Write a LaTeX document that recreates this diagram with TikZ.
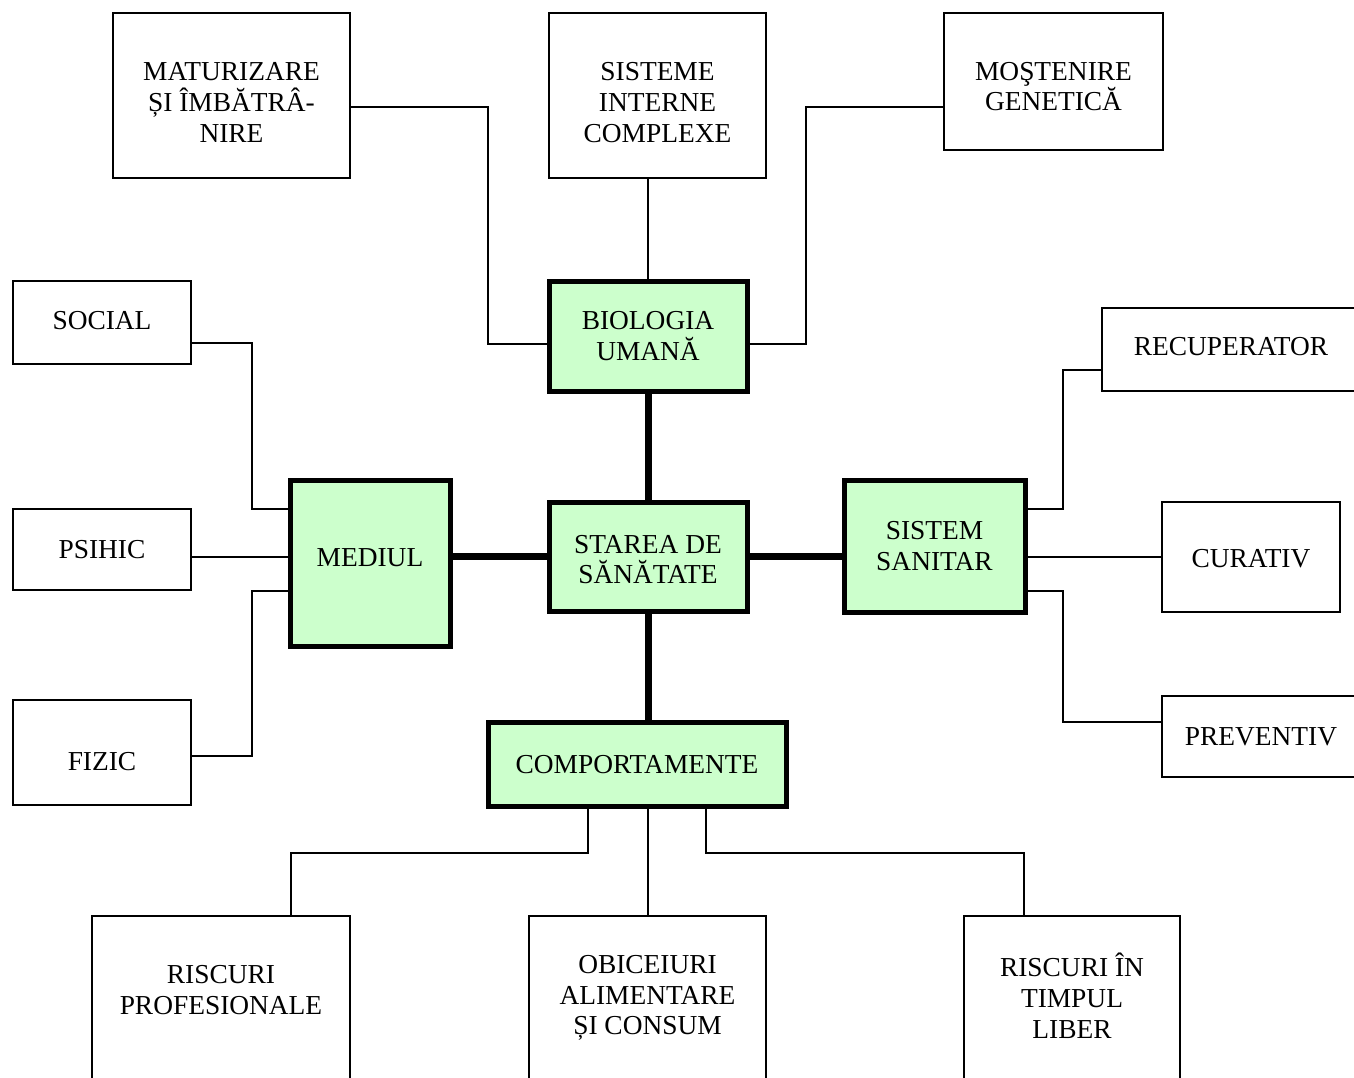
\documentclass[tikz,border=0pt]{standalone}
\usepackage{fontspec}
\setmainfont{Liberation Serif}
\definecolor{lightgreen}{HTML}{CCFFCC}
\begin{document}
\begin{tikzpicture}[x=1pt,y=-1pt,
  box/.style={draw=black, line width=1.5pt, fill=white, anchor=north west, inner sep=0pt, outer sep=0pt},
  mainbox/.style={box, fill=lightgreen, line width=5pt},
  txt/.style={inner sep=0pt, align=center, font=\fontsize{27.4}{30.8}\selectfont},
  conn/.style={line width=1.5pt},
  heavy/.style={line width=7pt}]
\useasboundingbox (0,0) rectangle (1354,1078);
\clip (0,0) rectangle (1354,1078);
% top row
\node[box, minimum width=237pt, minimum height=165pt] (mat) at (113,13) {};
\node[box, minimum width=217pt, minimum height=165pt] (sis) at (549,13) {};
\node[box, minimum width=219pt, minimum height=137pt] (mos) at (944,13) {};
% central
\node[mainbox, minimum width=198pt, minimum height=110pt] (bio) at (549,281) {};
\node[mainbox, minimum width=198pt, minimum height=109pt] (sta) at (549,502) {};
\node[mainbox, minimum width=160pt, minimum height=166pt] (med) at (290,480) {};
\node[mainbox, minimum width=181pt, minimum height=132pt] (san) at (844,480) {};
\node[mainbox, minimum width=298pt, minimum height=84pt] (comp) at (488,722) {};
% left
\node[box, minimum width=178pt, minimum height=83pt] (soc) at (13,281) {};
\node[box, minimum width=178pt, minimum height=81pt] (psi) at (13,509) {};
\node[box, minimum width=178pt, minimum height=105pt] (fiz) at (13,700) {};
% right
\node[box, minimum width=258pt, minimum height=83pt] (rec) at (1102,308) {};
\node[box, minimum width=178pt, minimum height=110pt] (cur) at (1162,502) {};
\node[box, minimum width=198pt, minimum height=81pt] (prev) at (1162,696) {};
% bottom
\node[box, minimum width=258pt, minimum height=170pt] (prof) at (92,916) {};
\node[box, minimum width=237pt, minimum height=170pt] (obi) at (529,916) {};
\node[box, minimum width=216pt, minimum height=170pt] (ris) at (964,916) {};
% texts
\node[txt] (matT) at ([yshift=-7pt]mat.center) {MATURIZARE\\ȘI ÎMBĂTRÂ-\\NIRE};
\node[txt] (sisT) at ([yshift=-7pt]sis.center) {SISTEME\\INTERNE\\COMPLEXE};
\node[txt] (mosT) at ([yshift=-5pt]mos.center) {MOŞTENIRE\\GENETICĂ};
\node[txt] (bioT) at ([yshift=0pt]bio.center) {BIOLOGIA\\UMANĂ};
\node[txt] (staT) at ([yshift=-3pt]sta.center) {STAREA DE\\SĂNĂTATE};
\node[txt] (medT) at ([yshift=5pt]med.center) {MEDIUL};
\node[txt] (sanT) at (san.center) {SISTEM\\SANITAR};
\node[txt] (compT) at ([yshift=-1pt]comp.center) {COMPORTAMENTE};
\node[txt] (socT) at ([yshift=2pt]soc.center) {SOCIAL};
\node[txt] (psiT) at (psi.center) {PSIHIC};
\node[txt] (fizT) at ([yshift=-9pt]fiz.center) {FIZIC};
\node[txt] (recT) at ([yshift=3pt]rec.center) {RECUPERATOR};
\node[txt] (curT) at ([yshift=-2pt]cur.center) {CURATIV};
\node[txt] (prevT) at (prev.center) {PREVENTIV};
\node[txt] (profT) at ([yshift=11pt]prof.center) {RISCURI\\PROFESIONALE};
\node[txt] (obiT) at ([yshift=3pt]obi.center) {OBICEIURI\\ALIMENTARE\\ȘI CONSUM};
\node[txt] (risT) at ([yshift=5pt]ris.center) {RISCURI ÎN\\TIMPUL\\LIBER};
% thin connectors
\draw[conn] ([yshift=-11.5pt]mat.east) -- ++(138,0) |- ([yshift=-8pt]bio.west);
\draw[conn] (bio.north) -- (bio.north |- sis.south);
\draw[conn] ([yshift=-25.5pt]mos.west) -- ++(-138,0) |- ([yshift=-8pt]bio.east);
\draw[conn] ([yshift=-20.5pt]soc.east) -- ++(61,0) |- ([yshift=54pt]med.west);
\draw[conn] ([yshift=-7.5pt]psi.east) -- ([yshift=6pt]med.west);
\draw[conn] ([yshift=-3.5pt]fiz.east) -- ++(61,0) |- ([yshift=-28pt]med.west);
\draw[conn] ([yshift=37pt]san.east) -- ++(38,0) |- ([yshift=-20.5pt]rec.west);
\draw[conn] ([yshift=-11pt]san.east) -- (cur.west);
\draw[conn] ([yshift=-45pt]san.east) -- ++(38,0) |- ([yshift=14.5pt]prev.west);
\draw[conn] ([xshift=-49pt]comp.south) -- ++(0,47) -| ([xshift=70pt]prof.north);
\draw[conn] ([xshift=11pt]comp.south) -- ([xshift=0.5pt]obi.north);
\draw[conn] ([xshift=69pt]comp.south) -- ++(0,47) -| ([xshift=-48pt]ris.north);
% heavy connectors
\draw[heavy] (bio.south) -- (sta.north);
\draw[heavy] (sta.west) -- (sta.west -| med.east);
\draw[heavy] (sta.east) -- (sta.east -| san.west);
\draw[heavy] (sta.south) -- (sta.south |- comp.north);
\end{tikzpicture}
\end{document}
